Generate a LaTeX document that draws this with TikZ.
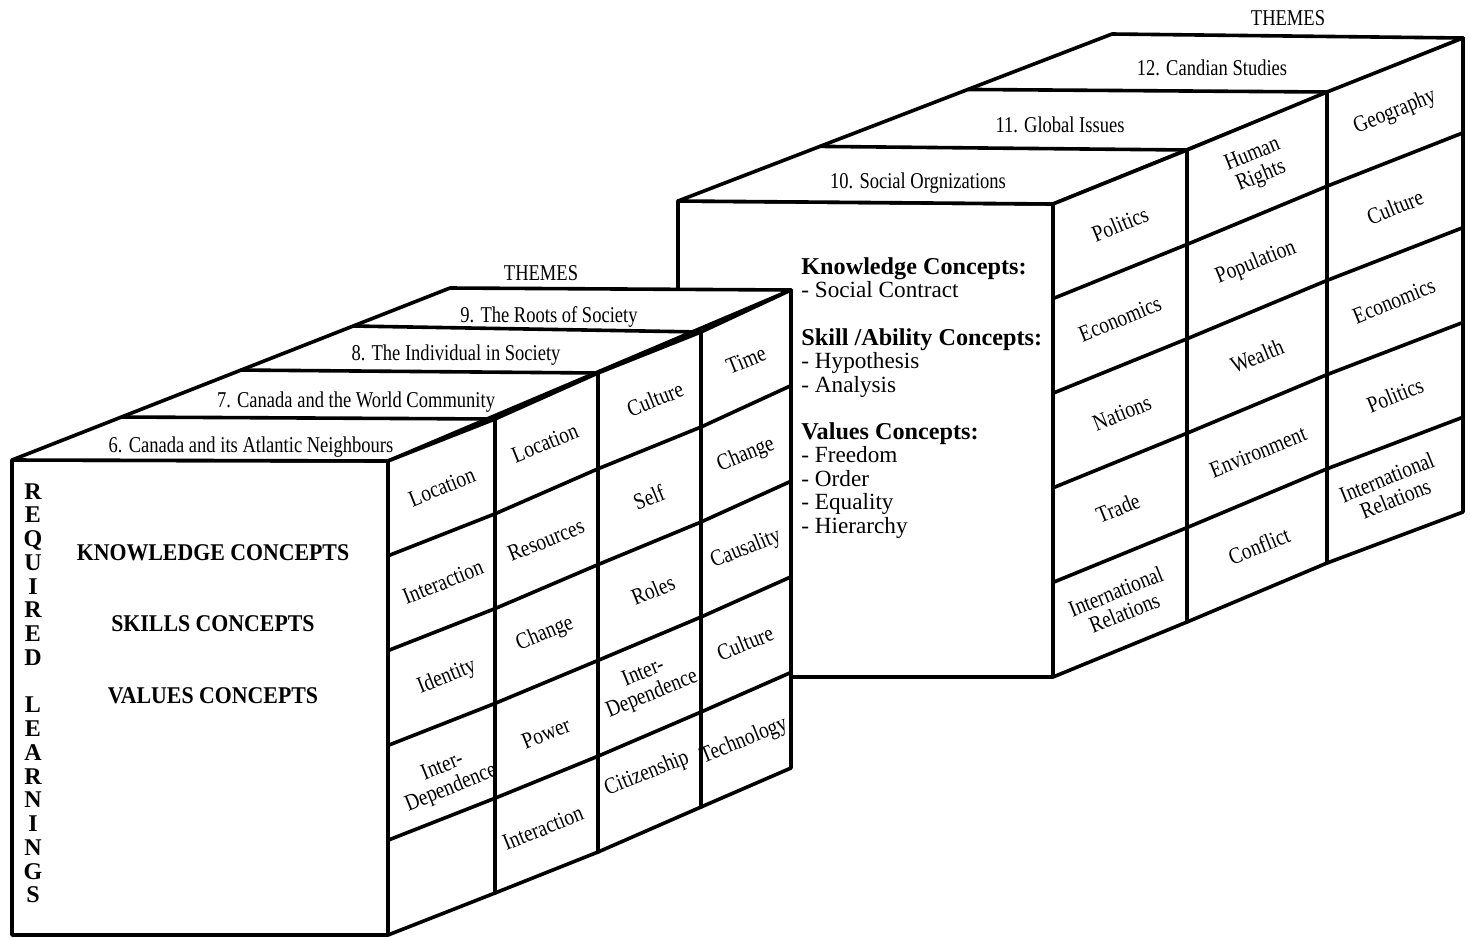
\documentclass[tikz,border=0pt]{standalone}
\usepackage{fontspec}
\setmainfont{Liberation Serif}
\newfontfamily\themefont[FakeStretch=0.82]{Liberation Serif}
\newfontfamily\cellfont[FakeStretch=0.84]{Liberation Serif}
\newfontfamily\capsfont[FakeStretch=0.91]{Liberation Serif}
\usetikzlibrary{calc}

\tikzset{
  edge/.style={line width=1.8pt, line join=round, line cap=round},
  face/.style={edge, fill=white},
  theme/.style={font=\themefont\fontsize{11.3}{12}\selectfont, anchor=base, inner sep=0pt},
  cell/.style={font=\cellfont\fontsize{11.6}{11.5}\selectfont, rotate=22, align=center, inner sep=0pt},
  bighead/.style={font=\capsfont\bfseries\fontsize{12}{13}\selectfont, anchor=base, inner sep=0pt},
  spine/.style={font=\bfseries\fontsize{12}{12}\selectfont, anchor=base, inner sep=0pt},
  listhead/.style={font=\bfseries\fontsize{12.1}{12}\selectfont, anchor=base west, inner sep=0pt},
  listitem/.style={font=\fontsize{11.6}{12}\selectfont, anchor=base west, inner sep=0pt},
}

\begin{document}
\begin{tikzpicture}[x=0.5pt, y=-0.5pt]
\useasboundingbox (0,0) rectangle (1470,938);
\fill[white] (0,0) rectangle (1470,938);

% ---------- back block: themes 10-12 ----------
\coordinate (rFL) at (678,201);
\coordinate (rBL) at (1112,34);
\coordinate (rFBL) at (678,677);
\coordinate (rT0) at (1053,204); \coordinate (rB0) at (1053,677);
\coordinate (rT1) at (1187,150); \coordinate (rB1) at (1187,622);
\coordinate (rT2) at (1327,92);  \coordinate (rB2) at (1327,563);
\coordinate (rT3) at (1463,38);  \coordinate (rB3) at (1463,512);

\draw[face] (rFL) -- (rT0) -- (rB0) -- (rFBL) -- cycle;
\draw[face] (rFL) -- (rBL) -- (rT3) -- (rT0) -- cycle;
\draw[face] (rT0) -- (rT1) -- (rT2) -- (rT3) -- (rB3) -- (rB2) -- (rB1) -- (rB0) -- cycle;
\draw[edge] ($(rFL)!0.327!(rBL)$) -- (rT1);
\draw[edge] ($(rFL)!0.668!(rBL)$) -- (rT2);
\draw[edge] (rT1) -- (rB1);
\draw[edge] (rT2) -- (rB2);
\foreach \k in {1,...,4}{
  \pgfmathsetmacro\f{\k/5}
  \draw[edge] ($(rT0)!\f!(rB0)$) -- ($(rT1)!\f!(rB1)$) -- ($(rT2)!\f!(rB2)$) -- ($(rT3)!\f!(rB3)$);
}

\node[theme] (themesR) at (1288,25) {THEMES};
\node[theme] (th10) at (918,188) {10. Social Orgnizations};
\node[theme] (th11) at (1060,132) {11. Global Issues};
\node[theme] (th12) at (1212,75) {12. Candian Studies};

\node[listhead] (kc)  at (801,274)   {Knowledge Concepts:};
\node[listitem] (kc1) at (801,297.5) {- Social Contract};
\node[listhead] (sc)  at (801,345)   {Skill /Ability Concepts:};
\node[listitem] (sc1) at (801,368.5) {- Hypothesis};
\node[listitem] (sc2) at (801,392)   {- Analysis};
\node[listhead] (vc)  at (801,439)   {Values Concepts:};
\node[listitem] (vc1) at (801,462.5) {- Freedom};
\node[listitem] (vc2) at (801,486)   {- Order};
\node[listitem] (vc3) at (801,509.5) {- Equality};
\node[listitem] (vc4) at (801,533)   {- Hierarchy};

% cells of the back block
\node[cell] (ra1) at (1120,224) {Politics};
\node[cell] (ra2) at (1120,319) {Economics};
\node[cell] (ra3) at (1122,413) {Nations};
\node[cell] (ra4) at (1118,508) {Trade};
\node[cell] (ra5) at (1120,602) {International\\Relations};
\node[cell] (rb1) at (1257,166) {Human\\Rights};
\node[cell] (rb2) at (1256,263) {Population};
\node[cell] (rb3) at (1257,356) {Wealth};
\node[cell] (rb4) at (1258,452) {Environment};
\node[cell] (rb5) at (1259,546) {Conflict};
\node[cell] (rc1) at (1395,112) {Geography};
\node[cell] (rc2) at (1395,207) {Culture};
\node[cell] (rc3) at (1394,301) {Economics};
\node[cell] (rc4) at (1395,395) {Politics};
\node[cell] (rc5) at (1391,488) {International\\Relations};

% ---------- front block: themes 6-9 ----------
\coordinate (lFL) at (12,460);
\coordinate (lBL) at (450,288);
\coordinate (lFBL) at (12,935);
\coordinate (lT0) at (388,461); \coordinate (lB0) at (388,935);
\coordinate (lT1) at (495,419); \coordinate (lB1) at (495,893);
\coordinate (lT2) at (598,373); \coordinate (lB2) at (598,852);
\coordinate (lT3) at (701,332); \coordinate (lB3) at (701,807);
\coordinate (lT4) at (791,290); \coordinate (lB4) at (791,768);

\draw[face] (lFL) -- (lT0) -- (lB0) -- (lFBL) -- cycle;
\draw[face] (lFL) -- (lBL) -- (lT4) -- (lT0) -- cycle;
\draw[face] (lT0) -- (lT1) -- (lT2) -- (lT3) -- (lT4) -- (lB4) -- (lB3) -- (lB2) -- (lB1) -- (lB0) -- cycle;
\draw[edge] ($(lFL)!0.25!(lBL)$) -- (lT1);
\draw[edge] ($(lFL)!0.523!(lBL)$) -- (lT2);
\draw[edge] ($(lFL)!0.779!(lBL)$) -- (lT3);
\draw[edge] (lT1) -- (lB1);
\draw[edge] (lT2) -- (lB2);
\draw[edge] (lT3) -- (lB3);
\foreach \k in {1,...,4}{
  \pgfmathsetmacro\f{\k/5}
  \draw[edge] ($(lT0)!\f!(lB0)$) -- ($(lT1)!\f!(lB1)$) -- ($(lT2)!\f!(lB2)$) -- ($(lT3)!\f!(lB3)$) -- ($(lT4)!\f!(lB4)$);
}

\node[theme] (themesL) at (541,280) {THEMES};
\node[theme] (th6) at (251,452) {6. Canada and its Atlantic Neighbours};
\node[theme] (th7) at (356,407) {7. Canada and the World Community};
\node[theme] (th8) at (456,360) {8. The Individual in Society};
\node[theme] (th9) at (549,322) {9. The Roots of Society};

\node[bighead] (kh) at (213,560) {KNOWLEDGE CONCEPTS};
\node[bighead] (sh) at (213,631) {SKILLS CONCEPTS};
\node[bighead] (vh) at (213,703) {VALUES CONCEPTS};

\foreach \ch [count=\i from 0] in {R,E,Q,U,I,R,E,D}
  \node[spine] (req\i) at (33,{499+\i*23.75}) {\ch};
\foreach \ch [count=\i from 9] in {L,E,A,R,N,I,N,G,S}
  \node[spine] (lrn\i) at (33,{499+\i*23.75}) {\ch};

% cells of the front block
\node[cell] (la1) at (442,487) {Location};
\node[cell] (la2) at (443,582) {Interaction};
\node[cell] (la3) at (447,677) {Identity};
\node[cell] (la4) at (447,778) {Inter-\\Dependence};
\node[cell] (lb1) at (545,443) {Location};
\node[cell] (lb2) at (546,540) {Resources};
\node[cell] (lb3) at (545,634) {Change};
\node[cell] (lb4) at (546,733) {Power};
\node[cell] (lb5) at (543,828) {Interaction};
\node[cell] (lc1) at (655,399) {Culture};
\node[cell] (lc2) at (649,497) {Self};
\node[cell] (lc3) at (653,590) {Roles};
\node[cell] (lc4) at (648,684) {Inter-\\Dependence};
\node[cell] (lc5) at (647,774) {Citizenship};
\node[cell] (ld1) at (746,360) {Time};
\node[cell] (ld2) at (746,455) {Change};
\node[cell] (ld3) at (746,549) {Causality};
\node[cell] (ld4) at (745,643) {Culture};
\node[cell] (ld5) at (744,741) {Technology};
\end{tikzpicture}
\end{document}
